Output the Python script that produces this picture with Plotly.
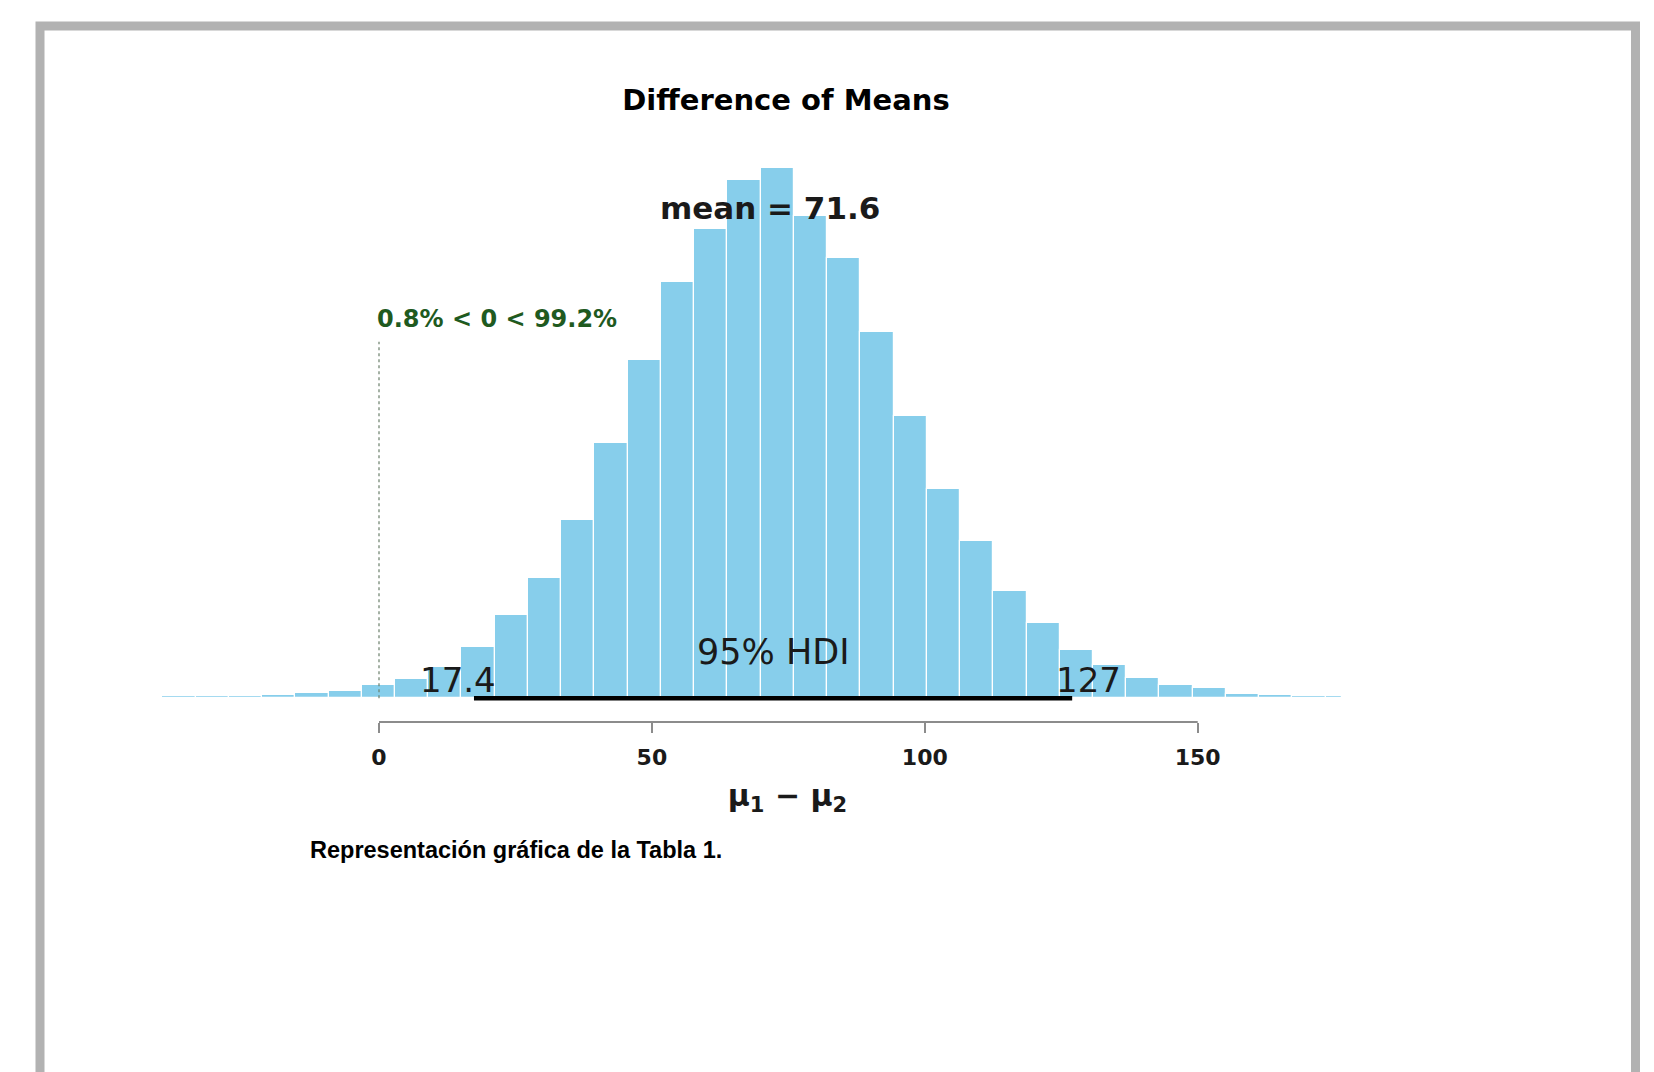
import plotly.graph_objects as go

# ---------------- data ----------------
bin_left_edges = [-39.70, -33.61, -27.52, -21.43, -15.34, -9.25, -3.16, 2.93, 9.02, 15.11,
                  21.20, 27.29, 33.38, 39.47, 45.56, 51.65, 57.74, 63.83, 69.92, 76.01,
                  82.10, 88.19, 94.28, 100.37, 106.46, 112.55, 118.64, 124.73, 130.82, 136.91,
                  143.00, 149.09, 155.18, 161.27, 167.36, 173.45]
bin_widths = [6.09] * 35 + [2.95]   # last break is the sample maximum
counts = [40, 42, 50, 55, 94, 143, 251, 359, 585, 974,
          1578, 2263, 3367, 4826, 6384, 7850, 8862, 9783, 10015, 9107,
          8318, 6921, 5336, 3952, 2962, 2018, 1412, 915, 623, 389,
          251, 200, 81, 62, 45, 40]
mean_value = 71.6
hdi_low, hdi_high = 17.4, 127
comp_value = 0
pct_below, pct_above = 0.8, 99.2
tick_values = [0, 50, 100, 150]
title_text = "Difference of Means"
x_title = "μ<sub>1</sub> − μ<sub>2</sub>"
caption_text = "Representación gráfica de la Tabla 1."

# ---------------- geometry (pixels in the screenshot) ----------------
W, H = 1654, 1072
OFF = 8.0                  # default page body margin added by the HTML page
R_MARGIN = 95              # so the axis title centres under the histogram
PLOT_W = W - R_MARGIN
AXIS_PX = 722.0 - OFF      # axis line / bottom of plot area
BASE_PX = 698.3 - OFF      # histogram baseline
PEAK_PX = 167.7 - OFF      # top of tallest bar
X0_PX = 379.0 - OFF        # x = 0
PX_PER_UNIT = 5.458

maxc = max(counts)
px_per_count = (BASE_PX - PEAK_PX) / maxc
y_range = [-(AXIS_PX - BASE_PX) / px_per_count, BASE_PX / px_per_count]
x_range = [-X0_PX / PX_PER_UNIT, (PLOT_W - X0_PX) / PX_PER_UNIT]


def ypaper(py):
    return (AXIS_PX - (py - OFF)) / AXIS_PX


def xpaper(px):
    return (px - OFF) / PLOT_W


BAR_COLOR = "#87CEEB"
TEXT = "#1a1a1a"

fig = go.Figure()
fig.add_trace(go.Bar(
    x=bin_left_edges, y=counts, width=bin_widths, offset=0,
    marker=dict(color=BAR_COLOR, line=dict(color="white", width=1.2)),
    hoverinfo="x+y", showlegend=False,
))

cen_ht = 0.9 * maxc
cv_ht = 0.7 * maxc

shapes = [
    # dotted comparison line
    dict(type="line", xref="x", yref="y", x0=comp_value, x1=comp_value,
         y0=0, y1=0.96 * cv_ht, line=dict(color="#6a7f6a", width=1.2, dash="dot")),
    # HDI bar
    dict(type="line", xref="x", yref="y", x0=hdi_low, x1=hdi_high, y0=0, y1=0,
         line=dict(color="black", width=4.5)),
    # axis line spanning the ticks only
    dict(type="line", xref="x", yref="paper", x0=tick_values[0], x1=tick_values[-1],
         y0=0, y1=0, line=dict(color="#8c8c8c", width=2)),
    # gray page frame
    dict(type="rect", xref="paper", yref="paper",
         x0=xpaper(40), x1=xpaper(1635.5), y0=ypaper(1200), y1=ypaper(26),
         line=dict(color="#b2b2b2", width=9), fillcolor="rgba(0,0,0,0)", layer="below"),
]

annotations = [
    dict(x=mean_value, y=cen_ht, xref="x", yref="y", text=f"mean = {mean_value}",
         showarrow=False, xanchor="center", yanchor="bottom", yshift=-7,
         font=dict(family="DejaVu Sans", size=31, color=TEXT, weight="bold")),
    dict(x=comp_value, y=cv_ht, xref="x", yref="y",
         text=f"{pct_below}% &lt; {comp_value} &lt; {pct_above}%",
         showarrow=False, xanchor="left", yanchor="bottom", xshift=-4, yshift=-8,
         font=dict(family="DejaVu Sans", size=24, color="#1f5a1f", weight="bold")),
    dict(x=(hdi_low + hdi_high) / 2, y=0, xref="x", yref="y", text="95% HDI",
         showarrow=False, xanchor="center", yanchor="bottom", yshift=24,
         font=dict(family="DejaVu Sans", size=35, color=TEXT)),
    dict(x=hdi_low, y=0, xref="x", yref="y", text=f"{hdi_low}",
         showarrow=False, xanchor="center", yanchor="bottom", xshift=-16, yshift=-4,
         font=dict(family="DejaVu Sans", size=34, color=TEXT)),
    dict(x=hdi_high, y=0, xref="x", yref="y", text=f"{hdi_high}",
         showarrow=False, xanchor="center", yanchor="bottom", xshift=16, yshift=-4,
         font=dict(family="DejaVu Sans", size=34, color=TEXT)),
    dict(x=xpaper(308), y=ypaper(850), xref="paper", yref="paper", text=f"<b>{caption_text}</b>",
         showarrow=False, xanchor="left", yanchor="middle",
         font=dict(family="Liberation Sans", size=23.5, color="black")),
]

fig.update_layout(
    width=W, height=H,
    margin=dict(l=0, r=R_MARGIN, t=0, b=H - AXIS_PX, pad=0),
    paper_bgcolor="white", plot_bgcolor="white",
    bargap=0,
    title=dict(text=f"<b>{title_text}</b>", x=(786 - OFF) / W, xanchor="center",
               y=1 - (100 - OFF) / H, yanchor="middle",
               font=dict(family="DejaVu Sans", size=29, color="black")),
    xaxis=dict(range=x_range, tickvals=tick_values, ticktext=[str(v) for v in tick_values],
               ticks="outside", ticklen=10, tickwidth=1.5, tickcolor="#8c8c8c",
               showline=False, showgrid=False, zeroline=False,
               ticklabelstandoff=6,
               tickfont=dict(family="DejaVu Sans", size=22, color=TEXT, weight="bold"),
               title=dict(text=x_title, standoff=15,
                          font=dict(family="DejaVu Sans", size=30, color=TEXT, weight="bold"))),
    yaxis=dict(range=y_range, visible=False, showgrid=False, zeroline=False),
    shapes=shapes,
    annotations=annotations,
)

fig.write_html("out.html")
